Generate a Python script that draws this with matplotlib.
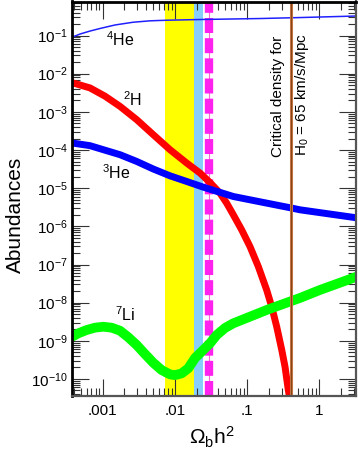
import numpy as np
import matplotlib
matplotlib.use("Agg")
import matplotlib.pyplot as plt
from matplotlib.ticker import FixedLocator, FixedFormatter, LogLocator, NullFormatter

plt.rcParams['font.family'] = ['Liberation Sans', 'DejaVu Sans']
plt.rcParams['mathtext.fontset'] = 'custom'
plt.rcParams['mathtext.rm'] = 'Liberation Sans'
plt.rcParams['mathtext.it'] = 'Liberation Sans'
plt.rcParams['mathtext.bf'] = 'Liberation Sans:bold'
plt.rcParams['mathtext.default'] = 'regular'

# ---- data ----
he4_x = [3.76e-4, 4.85e-4, 6.67e-4, 9.18e-4, 1.48e-3, 2.63e-3, 4.52e-3, 7.78e-3,
         0.0223, 0.151, 0.541, 3.30]
he4_y = [0.0902, 0.1094, 0.131, 0.153, 0.189, 0.223, 0.243, 0.252,
         0.263, 0.279, 0.296, 0.325]

h2_x = [3.76e-4, 6.67e-4, 1.076e-3, 1.74e-3, 2.96e-3, 5.02e-3, 8.55e-3, 0.01456,
        0.0223, 0.0306, 0.0421, 0.0521, 0.0645, 0.0841, 0.1096, 0.143, 0.1866,
        0.219, 0.257, 0.302, 0.335, 0.372, 0.393]
h2_y = [5.83e-3, 4.24e-3, 2.58e-3, 1.39e-3, 6.24e-4, 2.52e-4, 1.02e-4, 4.56e-5,
        2.49e-5, 1.41e-5, 7.43e-6, 4.06e-6, 2.00e-6, 8.09e-7, 2.95e-7, 8.81e-8,
        2.15e-8, 7.85e-9, 2.34e-9, 5.74e-10, 2.09e-10, 5.12e-11, 2.79e-11]

he3_x = [3.76e-4, 6.67e-4, 1.74e-3, 2.96e-3, 5.02e-3, 8.55e-3, 0.01456, 0.02449,
         0.0645, 0.1866, 0.415, 0.541, 3.30]
he3_y = [1.53e-4, 1.30e-4, 7.53e-5, 5.02e-5, 3.18e-5, 2.11e-5, 1.50e-5, 1.07e-5,
         6.05e-6, 4.06e-6, 3.01e-6, 2.71e-6, 1.67e-6]

li7_x = [3.76e-4, 4.59e-4, 6.0e-4, 7.82e-4, 1.02e-3, 1.33e-3, 1.74e-3, 2.26e-3,
         2.96e-3, 3.85e-3, 5.02e-3, 6.56e-3, 8.55e-3, 0.0100, 0.0124, 0.0153,
         0.0190, 0.0247, 0.0306, 0.0379, 0.0494, 0.0645, 0.1096, 0.1866, 0.317,
         0.541, 1.02, 3.30]
li7_y = [1.28e-9, 1.57e-9, 1.92e-9, 2.21e-9, 2.34e-9, 2.21e-9, 1.84e-9, 1.24e-9,
         7.76e-10, 4.51e-10, 2.66e-10, 1.71e-10, 1.32e-10, 1.26e-10, 1.40e-10, 1.90e-10,
         3.54e-10, 5.74e-10, 8.59e-10, 1.42e-9, 2.17e-9, 2.88e-9, 4.30e-9, 6.43e-9, 9.25e-9,
         1.33e-8, 2.15e-8, 4.81e-8]

yellow_band = [0.0073, 0.01858]
blue_band = [0.01858, 0.02427]
magenta_x = 0.0299
critical_x = 0.405

x_ticks = [0.001, 0.01, 0.1, 1]
x_ticklabels = ['.001', '.01', '.1', '1']
y_exponents = list(range(-10, 0))

W, H = 358, 455
fig = plt.figure(figsize=(W / 100, H / 100), dpi=100)
ax = fig.add_axes([72 / W, 1 - 396 / H, (356 - 72) / W, (396 - 1.5) / H])

ax.set_xscale('log')
ax.set_yscale('log')
ax.set_xlim(3.76e-4, 3.22)
ax.set_ylim(10 ** -10.446, 10 ** -0.108)

ax.axvspan(*yellow_band, color='#ffff00', lw=0, zorder=1)
ax.axvspan(*blue_band, color='#87cefa', lw=0, zorder=1)
ax.axvline(magenta_x, color='#ff66dd', lw=0.8, zorder=2)
ax.axvline(magenta_x, color='#ff22ee', lw=6, dashes=(1.8, 0.62), solid_capstyle='butt',
           dash_capstyle='butt', zorder=2)

ax.plot(he4_x, he4_y, color='#2020ff', lw=1.1, zorder=3)
ax.plot(h2_x, h2_y, color='#ff0000', lw=5, zorder=3, solid_joinstyle='round')
ax.plot(he3_x, he3_y, color='#0000ff', lw=5, zorder=4, solid_joinstyle='round')
ax.plot(li7_x, li7_y, color='#00ff00', lw=7, zorder=3, solid_joinstyle='round')

ax.axvline(critical_x, color='#d08050', lw=2.2, zorder=5)
ax.axvline(critical_x, color='#8b4513', lw=1.0, zorder=5)

# ticks
ax.xaxis.set_major_locator(FixedLocator(x_ticks))
ax.xaxis.set_major_formatter(FixedFormatter(x_ticklabels))
ax.xaxis.set_minor_locator(LogLocator(base=10, subs=np.arange(2, 10), numticks=30))
ax.xaxis.set_minor_formatter(NullFormatter())
ax.yaxis.set_major_locator(FixedLocator([10.0 ** e for e in y_exponents]))
ax.yaxis.set_major_formatter(FixedFormatter([r'$10^{%d}$' % e for e in y_exponents]))
ax.yaxis.set_minor_locator(LogLocator(base=10, subs=np.arange(2, 10), numticks=30))
ax.yaxis.set_minor_formatter(NullFormatter())

ax.tick_params(which='both', direction='in', top=True, right=True, color='#333333', width=0.8)
ax.tick_params(which='major', length=12.2, labelsize=11)
ax.tick_params(which='minor', length=5.8)
ax.tick_params(axis='x', which='major', pad=6)
ax.tick_params(axis='y', which='major', pad=3)

for s in ['left', 'top']:
    ax.spines[s].set_color('black')
    ax.spines[s].set_linewidth(2)
for s in ['bottom', 'right']:
    ax.spines[s].set_color('#555555')
    ax.spines[s].set_linewidth(1.6)
for sp in ax.spines.values():
    sp.set_zorder(10)

def px(x, y):
    return x / W, 1 - y / H

fig.text(*px(15, 215), 'Abundances', rotation=90, ha='center', va='center', fontsize=15)
fig.text(*px(212, 437), r'$\Omega_{b}h^{2}$', ha='center', va='center', fontsize=15)

fig.text(*px(120, 40), r'$^{4}$He', ha='center', va='center', fontsize=11.5)
fig.text(*px(133, 100), r'$^{2}$H', ha='center', va='center', fontsize=11.5)
fig.text(*px(116.5, 173), r'$^{3}$He', ha='center', va='center', fontsize=11.5)
fig.text(*px(125, 315), r'$^{7}$Li', ha='center', va='center', fontsize=11.5)

fig.text(*px(278, 96.5), 'Critical density for', rotation=90, ha='center', va='center', fontsize=11)
fig.text(*px(301.7, 95), r'H$_0$ = 65 km/s/Mpc', rotation=90, ha='center', va='center', fontsize=11)

fig.savefig('out.png', dpi=100)
